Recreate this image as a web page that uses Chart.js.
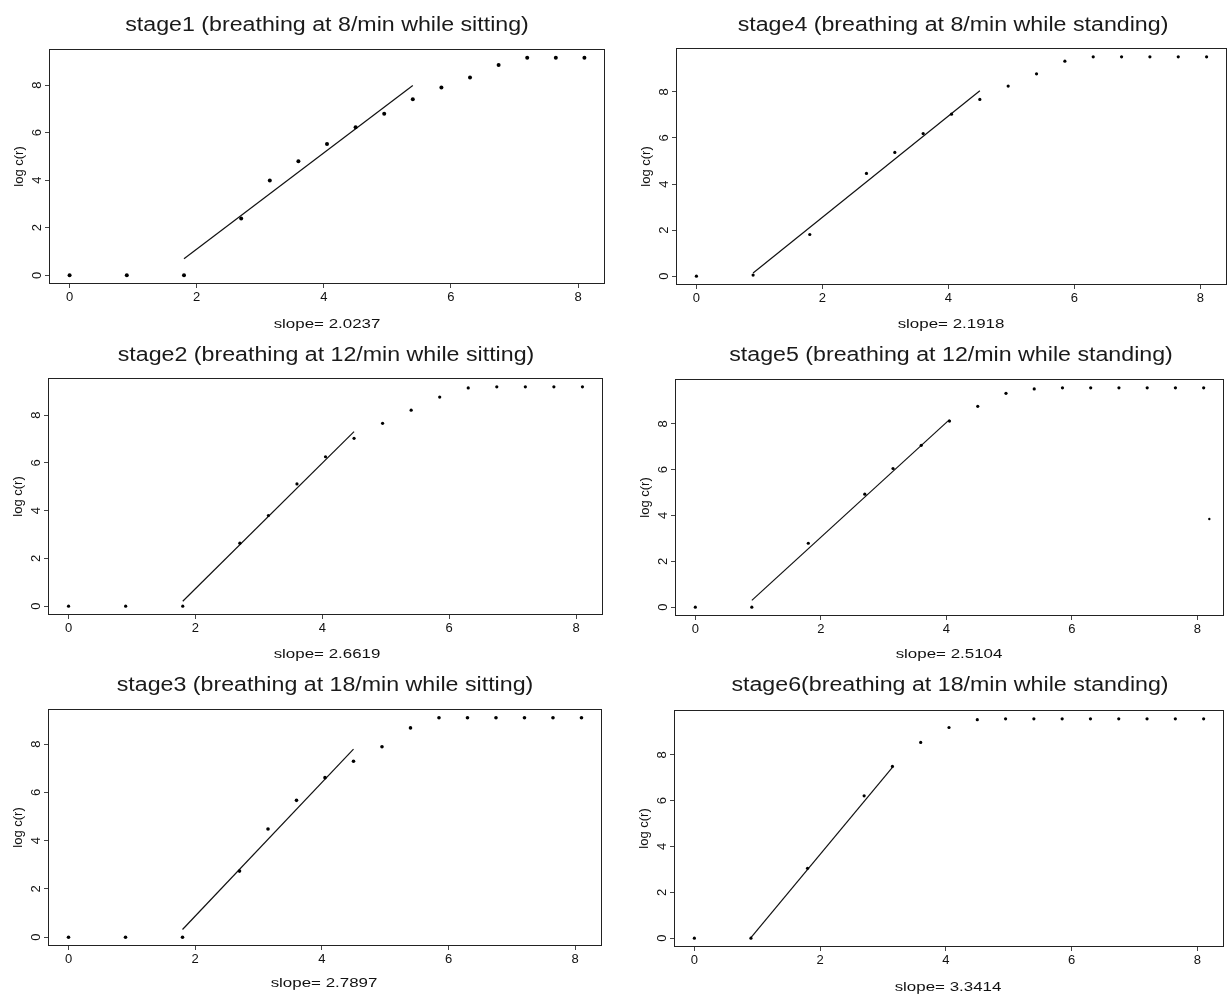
<!DOCTYPE html>
<html lang="en">
<head>
  <meta charset="UTF-8">
  <title>log c(r) against log r, stages 1-6</title>
  <script src="https://cdn.jsdelivr.net/npm/chart.js"></script>
  <style>
    html, body { margin: 0; padding: 0; background: #fff; }
    body { width: 1228px; height: 995px; position: relative; overflow: hidden;
           font-family: "Liberation Sans", Arial, sans-serif; color: #111; }
    canvas { position: absolute; }
    .lbl { position: absolute; white-space: nowrap; line-height: 1; }
    .title { font-size: 20px; color: #1a1a1a; }
    .slope { font-size: 13px; }
  </style>
</head>
<body>
  <script>
    // log r values, shared by every stage
    const logR = [0, 0.9, 1.8, 2.7, 3.15, 3.6, 4.05, 4.5, 4.95, 5.4, 5.85, 6.3, 6.75, 7.2, 7.65, 8.1];

    // log c(r) per stage
    const stage1 = [0, 0, 0, 2.39, 3.99, 4.80, 5.52, 6.23, 6.79, 7.40, 7.90, 8.32, 8.84, 9.15, 9.15, 9.15];
    const stage2 = [0, 0, 0, 2.64, 3.80, 5.12, 6.26, 7.03, 7.66, 8.21, 8.76, 9.14, 9.19, 9.19, 9.19, 9.19];
    const stage3 = [0, 0, 0, 2.74, 4.48, 5.67, 6.61, 7.29, 7.89, 8.67, 9.09, 9.09, 9.09, 9.09, 9.09, 9.09];
    const stage4 = [0, 0.05, 1.81, 4.46, 5.37, 6.19, 7.03, 7.67, 8.25, 8.78, 9.33, 9.52, 9.52, 9.52, 9.52, 9.52];
    const stage5 = [0, 0, 2.79, 4.93, 6.05, 7.06, 8.12, 8.76, 9.33, 9.52, 9.57, 9.57, 9.57, 9.57, 9.57, 9.57];
    const stage6 = [0, 0, 3.05, 6.21, 7.49, 8.54, 9.19, 9.53, 9.57, 9.57, 9.57, 9.57, 9.57, 9.57, 9.57, 9.57];

    // fitted line end points
    const fit1X = [1.8, 5.4],  fit1Y = [0.70, 7.98];
    const fit2X = [1.8, 4.5],  fit2Y = [0.21, 7.31];
    const fit3X = [1.8, 4.5],  fit3Y = [0.32, 7.79];
    const fit4X = [0.9, 4.5],  fit4Y = [0.14, 8.05];
    const fit5X = [0.9, 4.05], fit5Y = [0.30, 8.18];
    const fit6X = [0.9, 3.15], fit6Y = [0.03, 7.45];

    // lone stray point on the stage5 plot
    const stage5ExtraX = [8.19], stage5ExtraY = [3.85];

    const slopes = ['2.0237', '2.6619', '2.7897', '2.1918', '2.5104', '3.3414'];
    const titles = [
      'stage1 (breathing at 8/min while sitting)',
      'stage2 (breathing at 12/min while sitting)',
      'stage3 (breathing at 18/min while sitting)',
      'stage4 (breathing at 8/min while standing)',
      'stage5 (breathing at 12/min while standing)',
      'stage6(breathing at 18/min while standing)'
    ];
    const xTicks = [0, 2, 4, 6, 8];
    const yTicks = [0, 2, 4, 6, 8];
    const yTitle = 'log c(r)';

    const series = [stage1, stage2, stage3, stage4, stage5, stage6];
    const fitsX = [fit1X, fit2X, fit3X, fit4X, fit5X, fit6X];
    const fitsY = [fit1Y, fit2Y, fit3Y, fit4Y, fit5Y, fit6Y];

    // page layout of each panel: canvas rect, plot box, title and slope text centres
    const panels = [
      { s: 0, cx: 0,   cy: 0,   cw: 614, ch: 330, box: [49, 49, 605, 284],   title: [327, 24],  slope: [327, 323], r: 2 },
      { s: 3, cx: 614, cy: 0,   cw: 617, ch: 330, box: [676, 48, 1230, 285], title: [953, 24],  slope: [951, 323], r: 1.6 },
      { s: 1, cx: 0,   cy: 330, cw: 614, ch: 330, box: [48, 378, 603, 615],  title: [326, 354], slope: [327, 653], r: 1.6 },
      { s: 4, cx: 614, cy: 330, cw: 614, ch: 330, box: [675, 379, 1227, 616], title: [951, 354], slope: [949, 653], r: 1.6 },
      { s: 2, cx: 0,   cy: 660, cw: 614, ch: 335, box: [48, 709, 602, 946],  title: [325, 684], slope: [324, 982], r: 1.8 },
      { s: 5, cx: 614, cy: 660, cw: 614, ch: 335, box: [674, 710, 1227, 947], title: [950, 684], slope: [948, 986], r: 1.6 }
    ];

    const FONT = '"Liberation Sans", Arial, sans-serif';

    function addLabel(text, cls, x, y, stretch) {
      const d = document.createElement('div');
      d.className = 'lbl ' + cls;
      d.textContent = text;
      d.style.left = x + 'px';
      d.style.top = y + 'px';
      d.style.transform = 'translate(-50%, -50%) scaleX(' + stretch + ')';
      document.body.appendChild(d);
    }

    // frame around the plot region plus R-style rotated y tick labels
    const framePlugin = {
      id: 'frame',
      afterDraw(chart) {
        const { ctx, chartArea: a, scales } = chart;
        ctx.save();
        ctx.strokeStyle = '#222';
        ctx.lineWidth = 1;
        ctx.strokeRect(Math.round(a.left) + 0.5, Math.round(a.top) + 0.5,
                       Math.round(a.right - a.left) - 1, Math.round(a.bottom - a.top) - 1);
        ctx.fillStyle = '#111';
        ctx.font = '13px ' + FONT;
        ctx.textAlign = 'center';
        ctx.textBaseline = 'middle';
        yTicks.forEach(v => {
          const py = scales.y.getPixelForValue(v);
          ctx.save();
          ctx.translate(a.left - 12, py);
          ctx.rotate(-Math.PI / 2);
          ctx.fillText(String(v), 0, 0);
          ctx.restore();
        });
        ctx.restore();
      }
    };

    panels.forEach(p => {
      const [l, t, r, b] = p.box;
      const vals = series[p.s];
      const ymax = Math.max(...vals);

      const canvas = document.createElement('canvas');
      canvas.width = p.cw;
      canvas.height = p.ch;
      canvas.style.left = p.cx + 'px';
      canvas.style.top = p.cy + 'px';
      document.body.appendChild(canvas);

      const datasets = [
        {
          data: logR.map((x, i) => ({ x: x, y: vals[i] })),
          pointRadius: p.r,
          pointBackgroundColor: '#000',
          pointBorderWidth: 0,
          showLine: false
        },
        {
          data: fitsX[p.s].map((x, i) => ({ x: x, y: fitsY[p.s][i] })),
          showLine: true,
          borderColor: '#111',
          borderWidth: 1.2,
          pointRadius: 0
        }
      ];
      if (p.s === 4) {
        datasets.push({
          data: stage5ExtraX.map((x, i) => ({ x: x, y: stage5ExtraY[i] })),
          pointRadius: 1.2,
          pointBackgroundColor: '#000',
          pointBorderWidth: 0,
          showLine: false
        });
      }

      new Chart(canvas, {
        type: 'scatter',
        data: { datasets: datasets },
        options: {
          responsive: false,
          animation: false,
          layout: { padding: { left: 0, top: t - p.cy, right: p.cx + p.cw - r, bottom: 0 } },
          plugins: { legend: { display: false }, tooltip: { enabled: false } },
          scales: {
            x: {
              type: 'linear',
              min: -0.324,
              max: 8.424,
              afterBuildTicks: s => { s.ticks = xTicks.map(v => ({ value: v })); },
              afterFit: s => { s.height = p.cy + p.ch - b; },
              grid: { drawOnChartArea: false, drawTicks: true, tickLength: 4, color: '#444' },
              border: { display: false },
              ticks: { padding: 2, color: '#111', font: { family: FONT, size: 13 }, maxRotation: 0, autoSkip: false }
            },
            y: {
              type: 'linear',
              min: -0.04 * ymax,
              max: 1.04 * ymax,
              afterBuildTicks: s => { s.ticks = yTicks.map(v => ({ value: v })); },
              afterFit: s => { s.width = l - p.cx; },
              grid: { drawOnChartArea: false, drawTicks: true, tickLength: 4, color: '#444' },
              border: { display: false },
              ticks: { display: false },
              title: {
                display: true,
                text: yTitle,
                color: '#111',
                font: { family: FONT, size: 13 },
                padding: { top: (l - 29.5 - p.cx) - 7.8, bottom: 0 }
              }
            }
          }
        },
        plugins: [framePlugin]
      });

      addLabel(titles[p.s], 'title', p.title[0], p.title[1], 1.16);
      addLabel('slope= ' + slopes[p.s], 'slope', p.slope[0], p.slope[1], 1.3);
    });
  </script>
</body>
</html>
